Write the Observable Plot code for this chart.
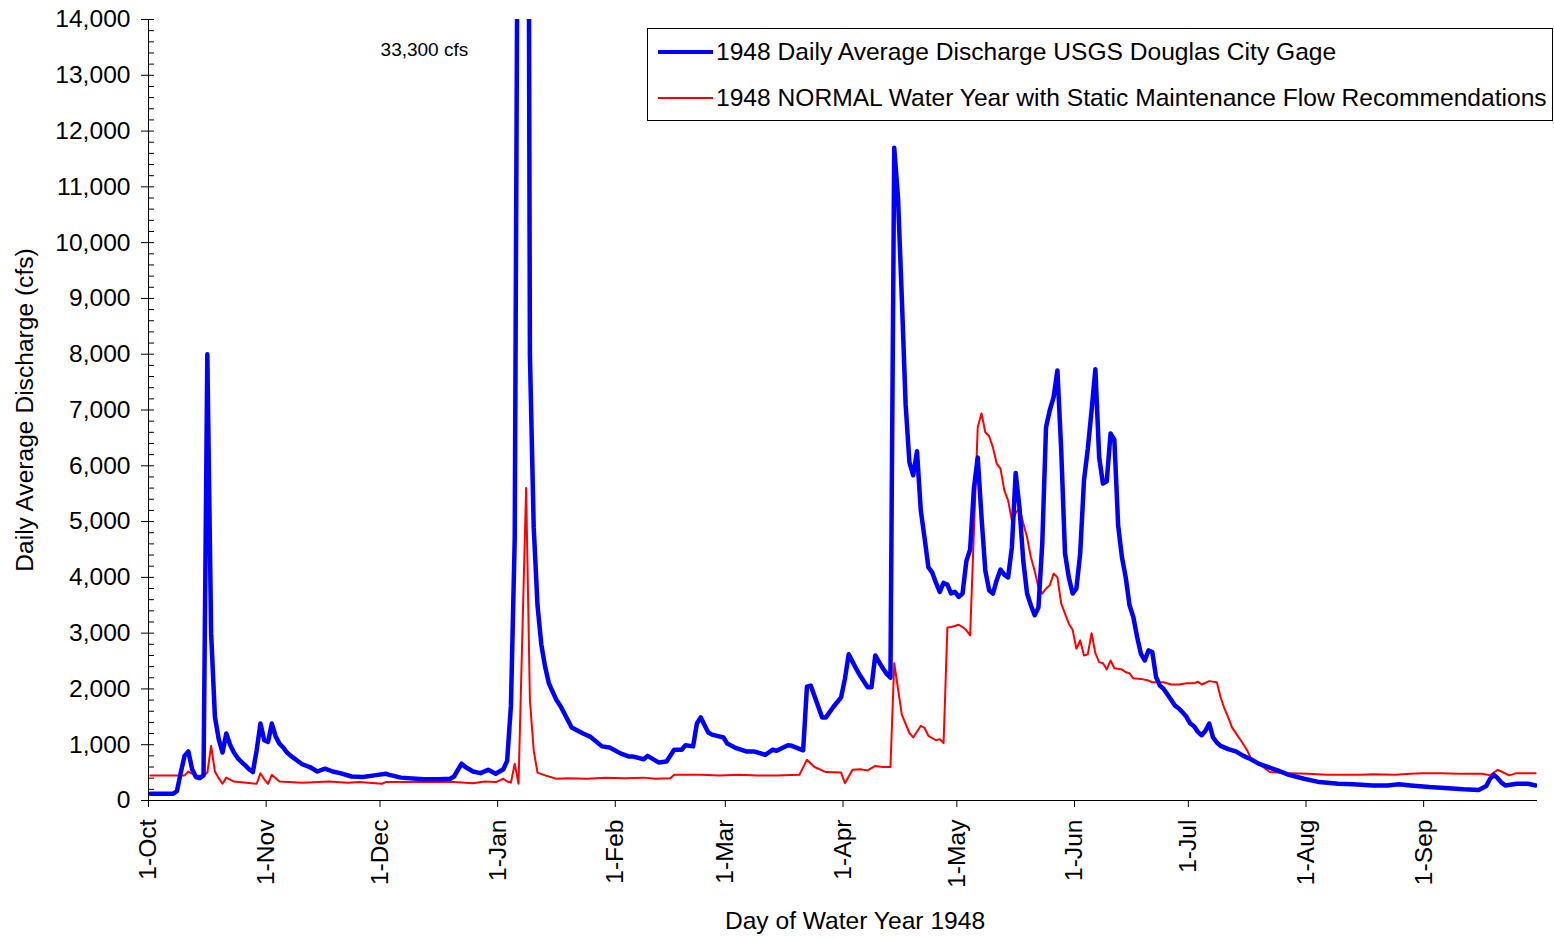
<!DOCTYPE html>
<html>
<head>
<meta charset="utf-8">
<script src="https://cdn.jsdelivr.net/npm/d3@7"></script>
<script src="https://cdn.jsdelivr.net/npm/@observablehq/plot@0.6"></script>
<style>
  body { margin: 0; background: #fff; }
  #wrap { position: relative; width: 1554px; height: 938px; font-family: "Liberation Sans", Arial, sans-serif; }
  #legend { position: absolute; left: 647px; top: 28px; width: 906px; height: 93px; border: 1px solid #000; box-sizing: border-box; background: #fff; }
  .row { position: absolute; left: 10px; height: 28px; display: flex; align-items: center; font-size: 24.6px; color: #000; white-space: nowrap; }
  .swatch { width: 55px; margin-right: 3px; }
</style>
</head>
<body>
<div id="wrap">
  <div id="chart"></div>
  <div id="legend"></div>
</div>
<script>
// ---- Data (days since 1-Oct-1947, daily average discharge in cfs) ----
const monthTickDays = [0, 31, 61, 92, 123, 152, 183, 213, 244, 274, 305, 336];
const monthTickLabels = ["1-Oct", "1-Nov", "1-Dec", "1-Jan", "1-Feb", "1-Mar", "1-Apr", "1-May", "1-Jun", "1-Jul", "1-Aug", "1-Sep"];
const yMajorTicks = [0, 1000, 2000, 3000, 4000, 5000, 6000, 7000, 8000, 9000, 10000, 11000, 12000, 13000, 14000];
const yMinorTicks = d3.range(0, 14001, 200).filter(v => v % 1000 !== 0);

const seriesNames = [
  "1948 Daily Average Discharge USGS Douglas City Gage",
  "1948 NORMAL Water Year with Static Maintenance Flow Recommendations"
];

const gageDays = [0,6,7,8,9,10,11,12,13,14,15,16,17,18,19,20,21,22,23,24,25,26,27,28,29,30,31,32,33,34,35,36,37,38,39,40,42,44,46,48,50,53,56,59,62,63,66,72,76,79,80,82,83,85,87,89,91,93,94,95,96,97,98,99,100,101,102,103,104,105,106,107,108,111,114,116,119,121,124,126,127,130,131,134,136,138,140,141,143,144,145,147,148,151,152,154,157,159,162,164,165,168,169,172,173,174,177,178,180,182,183,184,186,187,189,190,191,193,194,195,196,197,198,199,200,201,202,203,204,205,206,207,208,209,210,211,212,213,214,215,216,217,218,219,220,221,222,223,224,225,226,227,228,229,230,231,232,233,234,235,236,237,238,239,240,241,242,243,244,245,246,247,248,249,250,251,252,253,254,255,256,257,258,259,260,261,262,263,264,265,266,267,268,269,270,271,272,273,274,275,276,277,278,279,280,281,282,284,286,288,290,292,294,297,300,304,308,313,317,322,326,329,332,337,342,346,350,352,353,354,355,356,357,360,363,365];
const gageCfs = [120,120,170,500,800,880,560,420,400,450,8000,3000,1500,1100,860,1200,1000,860,760,690,630,560,510,900,1380,1080,1050,1380,1150,1020,950,860,800,750,700,650,600,520,570,520,490,430,420,450,480,460,410,380,380,390,430,660,600,520,490,550,480,560,710,1700,4700,20000,30000,33300,8000,4900,3500,2800,2400,2100,1950,1800,1700,1310,1200,1140,970,950,840,790,790,740,800,680,700,910,910,990,970,1380,1490,1220,1180,1130,1020,950,880,880,820,910,890,990,980,900,2040,2060,1490,1490,1680,1850,2180,2620,2360,2240,2030,2030,2600,2370,2270,2200,11700,10800,9000,7100,6060,5830,6260,5200,4700,4180,4090,3900,3740,3900,3870,3710,3740,3650,3710,4290,4500,5600,6150,5080,4120,3770,3710,3950,4140,4050,4000,4540,5870,5250,4300,3710,3500,3320,3460,4600,6690,7000,7230,7710,6280,4430,4000,3710,3800,4430,5740,6300,6990,7730,6150,5680,5720,6580,6470,4930,4360,4000,3500,3290,2930,2630,2510,2690,2660,2210,2060,2000,1900,1800,1700,1650,1580,1500,1380,1330,1230,1170,1250,1380,1130,1040,980,920,880,800,740,660,610,540,460,390,330,300,290,270,270,290,270,240,220,200,190,260,390,460,400,320,270,300,300,270];

const normalDays = [0,9,10,11,12,14,15,16,17,18,19,20,22,28,29,30,31,32,34,40,47,52,55,61,62,70,80,85,88,91,93,94,95,96,97,99,100,101,102,104,107,110,115,120,125,130,133,137,138,145,150,155,160,165,171,173,175,178,182,183,185,187,189,191,193,195,196,198,200,201,203,204,205,207,208,209,210,211,213,214,215,216,218,219,220,221,222,223,224,225,226,227,228,229,230,231,232,233,234,235,236,237,238,239,240,241,242,243,244,245,246,247,248,249,250,251,252,253,254,256,257,258,259,261,263,264,267,269,271,273,275,276,277,279,281,282,283,284,285,287,289,290,293,295,297,300,305,310,319,322,328,332,335,340,345,351,353,355,356,358,360,365];
const normalCfs = [450,450,520,480,450,440,500,980,520,400,300,410,340,300,490,380,300,460,340,320,340,320,330,300,330,330,330,310,340,330,390,340,320,660,300,5600,1800,900,500,450,390,400,390,410,400,410,390,400,460,460,450,460,450,450,460,730,600,510,500,310,550,560,540,620,600,600,2460,1540,1210,1130,1340,1300,1160,1080,1100,1030,3100,3110,3150,3110,3050,2960,6690,6940,6600,6530,6330,6040,5950,5560,5380,5020,5150,5250,4970,4720,4360,4120,3820,3710,3800,3860,4070,4000,3530,3350,3170,3060,2720,2870,2600,2620,3000,2640,2480,2460,2350,2510,2370,2350,2300,2280,2190,2180,2150,2120,2120,2080,2080,2100,2100,2130,2080,2140,2120,1850,1650,1490,1310,1110,900,750,610,510,500,490,480,460,460,470,460,480,490,490,480,480,450,550,520,450,490,490];

const peakNote = {day: 72.7, cfs: 13460, label: "33,300 cfs"};
const xTitle = "Day of Water Year 1948";
const yTitle = "Daily Average Discharge (cfs)";

// ---- Build tables ----
const gage = gageDays.map((d, i) => ({day: d + 0.5, cfs: gageCfs[i]}));
const normal = normalDays.map((d, i) => ({day: d + 0.5, cfs: normalCfs[i]}));
const tickLabel = new Map(monthTickDays.map((d, i) => [d, monthTickLabels[i]]));

const FONT = '"Liberation Sans", Arial, sans-serif';
const FS = 24.6;
const W = 1554, H = 938, ML = 148, MR = 17;
const frameW = W - ML - MR;

const chart = Plot.plot({
  width: W,
  height: H,
  marginLeft: ML,
  marginRight: MR,
  marginTop: 19,
  marginBottom: 138,
  style: {fontFamily: FONT, fontSize: FS + "px", color: "#000", background: "#fff", overflow: "visible"},
  x: {type: "linear", domain: [0, 366]},
  y: {type: "linear", domain: [0, 14000]},
  marks: [
    Plot.line(normal, {x: "day", y: "cfs", stroke: "#ff0000", strokeWidth: 2, clip: true}),
    Plot.line(gage, {x: "day", y: "cfs", stroke: "#0000ff", strokeWidth: 4.5, clip: true}),
    Plot.ruleX([0], {stroke: "#000", strokeWidth: 1}),
    Plot.ruleY([0], {stroke: "#000", strokeWidth: 1}),
    Plot.axisX({ticks: monthTickDays, tickFormat: d => tickLabel.get(d), tickRotate: -90, tickSize: 7, tickPadding: 12, label: null, fontSize: FS, stroke: "#000"}),
    Plot.axisY({ticks: yMajorTicks, tickFormat: d3.format(","), tickSize: 7, tickPadding: 11, label: null, fontSize: FS}),
    Plot.tickY(yMajorTicks, {y: d => d, insetRight: frameW - 6, stroke: "#000"}),
    Plot.tickY(yMinorTicks, {y: d => d, insetRight: frameW - 6, stroke: "#000"}),
    Plot.text([peakNote], {x: "day", y: "cfs", text: "label", fontSize: 19, fill: "#000"}),
    Plot.text([xTitle], {frameAnchor: "bottom", textAnchor: "middle", lineAnchor: "middle", dx: 12, dy: 121, fontSize: FS, fill: "#000"}),
    Plot.text([yTitle], {frameAnchor: "left", textAnchor: "middle", lineAnchor: "middle", dx: -123, rotate: -90, fontSize: FS, fill: "#000"})
  ]
});
document.getElementById("chart").append(chart);

// ---- Legend ----
const legend = document.getElementById("legend");
[
  {name: seriesNames[0], color: "#0000ff", w: 4.5, top: 9},
  {name: seriesNames[1], color: "#ff0000", w: 2, top: 55}
].forEach(s => {
  const row = document.createElement("div");
  row.className = "row";
  row.style.top = s.top + "px";
  const sw = document.createElement("div");
  sw.className = "swatch";
  sw.style.height = s.w + "px";
  sw.style.background = s.color;
  const tx = document.createElement("span");
  tx.textContent = s.name;
  row.append(sw, tx);
  legend.append(row);
});
</script>
</body>
</html>
